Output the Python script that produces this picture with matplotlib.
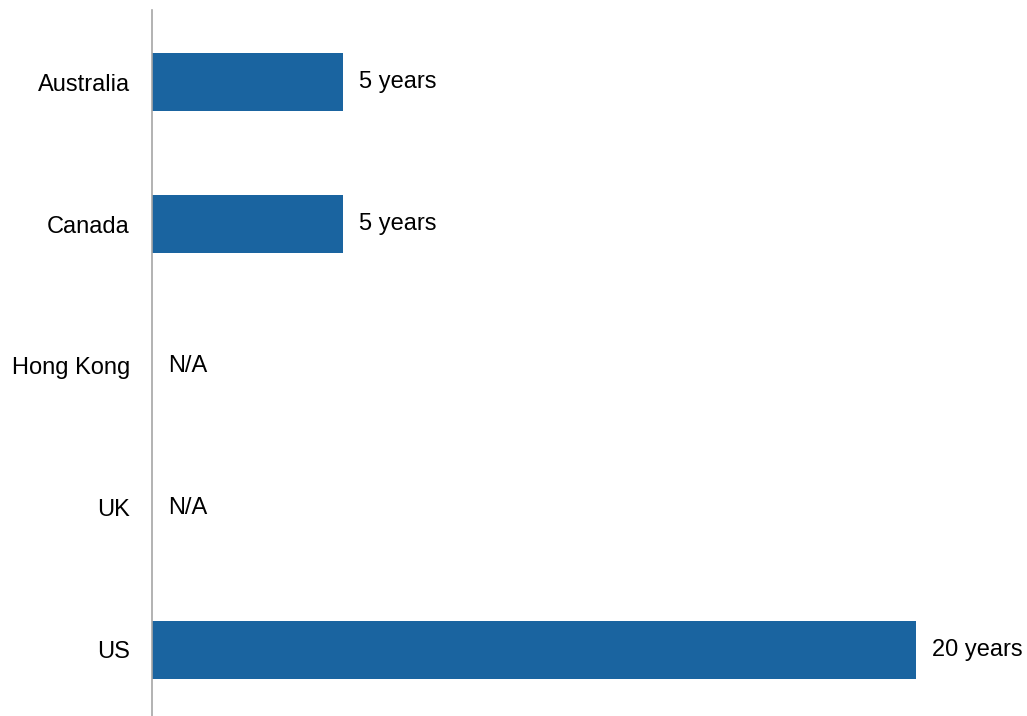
import matplotlib
matplotlib.use("Agg")
import matplotlib.pyplot as plt

plt.rcParams['font.family'] = ['Liberation Sans', 'DejaVu Sans']

# data
countries = ["Australia", "Canada", "Hong Kong", "UK", "US"]
years = [5, 5, None, None, 20]
labels = ["5 years", "5 years", "N/A", "N/A", "20 years"]

bar_color = "#1a64a0"

fig = plt.figure(figsize=(10.27, 7.16), dpi=100)
ax = fig.add_axes([0.148, 0.0, 0.852, 0.986])

pos = list(range(len(countries)))
widths = [v if v is not None else 0 for v in years]
bars = ax.barh(pos, widths, height=0.41, color=bar_color)

for b, v, lab in zip(bars, years, labels):
    x = v if v is not None else 0
    ax.annotate(lab, xy=(x, b.get_y() + b.get_height() / 2),
                xytext=(11.5, 0), textcoords="offset points",
                va="center", ha="left", fontsize=17, color="black")

ax.set_yticks(pos)
ax.set_yticklabels(countries, fontsize=17)
ax.tick_params(axis="y", length=0, pad=16)
ax.set_xticks([])
ax.set_xlim(0, 22.9)
ax.set_ylim(4.465, -0.507)

for s in ["top", "right", "bottom"]:
    ax.spines[s].set_visible(False)
ax.spines["left"].set_color("#a6a6a6")
ax.spines["left"].set_linewidth(1.2)

fig.savefig("out.png", dpi=100)
